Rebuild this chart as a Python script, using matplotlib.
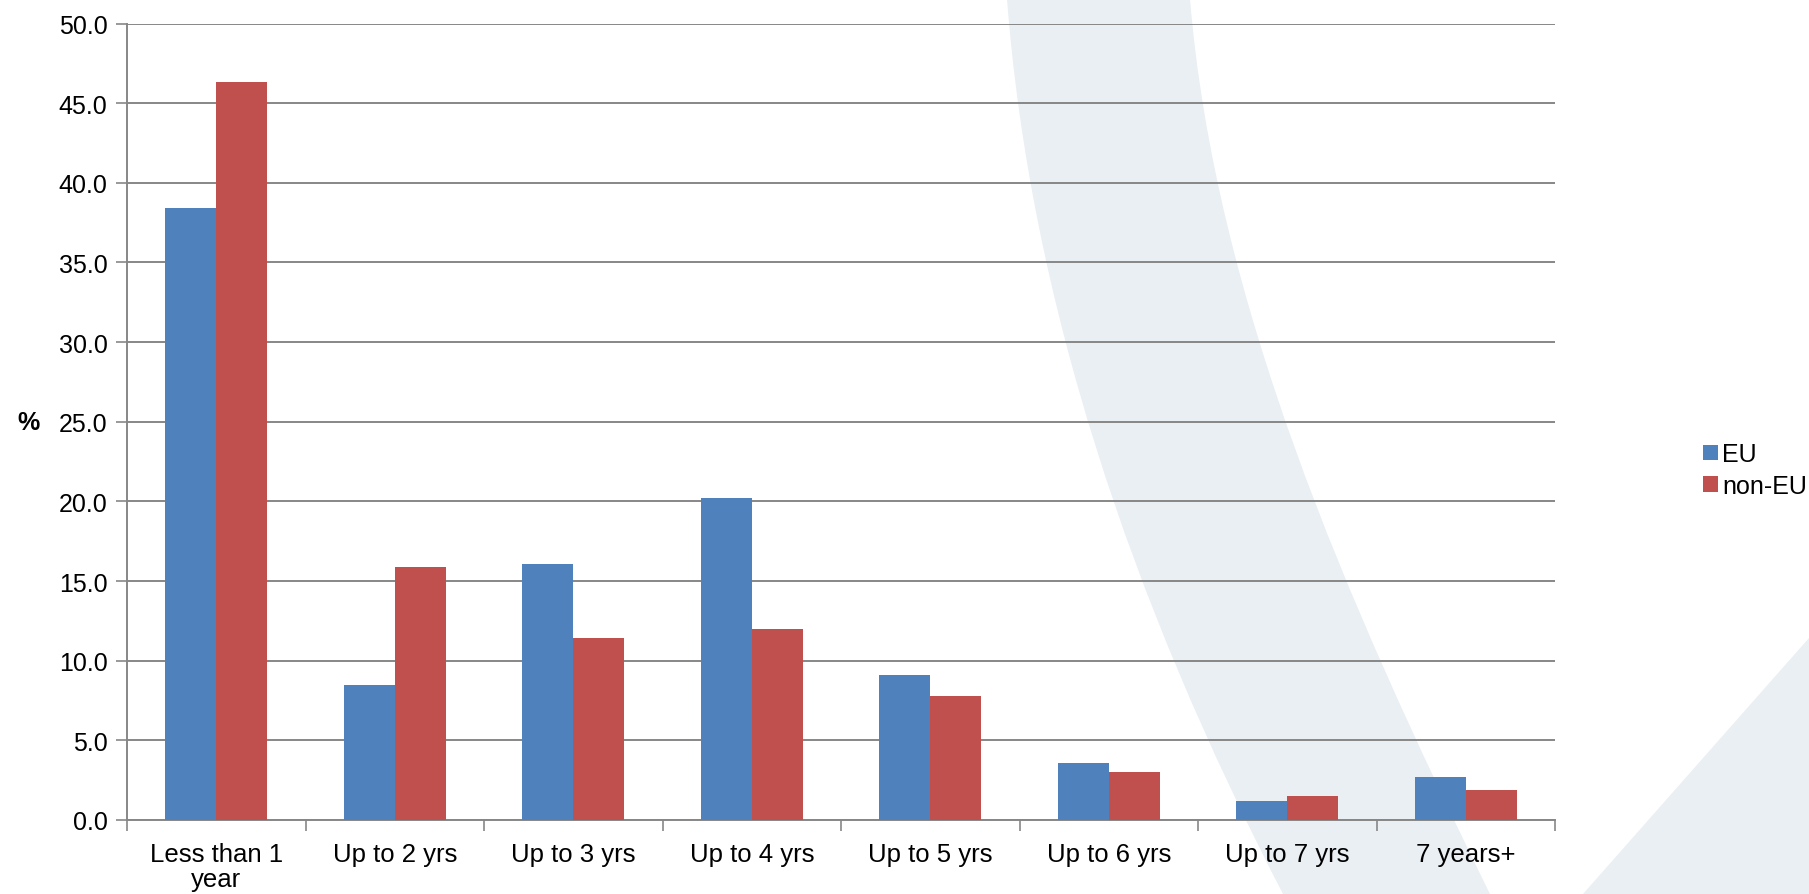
import numpy as np
import matplotlib.pyplot as plt
from matplotlib.patches import Polygon, PathPatch
from matplotlib.path import Path

categories = ['Less than 1\nyear', 'Up to 2 yrs', 'Up to 3 yrs', 'Up to 4 yrs',
              'Up to 5 yrs', 'Up to 6 yrs', 'Up to 7 yrs', '7 years+']
eu = [38.4, 8.5, 16.1, 20.2, 9.1, 3.6, 1.2, 2.7]
non_eu = [46.3, 15.9, 11.4, 12.0, 7.8, 3.0, 1.5, 1.9]

plt.rcParams['font.family'] = ['Liberation Sans', 'DejaVu Sans']

W, H = 1809, 895
fig = plt.figure(figsize=(W / 100, H / 100), dpi=100)
fig.patch.set_facecolor('white')

# pale background swoosh (pixel coords, origin top-left)
def px(pts):
    return [(x / W, 1 - y / H) for x, y in pts]

swoosh = px([(1007, 0), (1030, 300), (1130, 600), (1283, 895),
             (1490, 895), (1345, 600), (1215, 300), (1190, 0), (1007, 0)])
codes = [Path.MOVETO, Path.CURVE4, Path.CURVE4, Path.CURVE4,
         Path.LINETO, Path.CURVE4, Path.CURVE4, Path.CURVE4, Path.CLOSEPOLY]
fig.patches.append(PathPatch(Path(swoosh, codes), transform=fig.transFigure,
                             facecolor='#eaeff3', edgecolor='none', zorder=-1))
corner = px([(1809, 639), (1583, 895), (1809, 895)])
fig.patches.append(Polygon(corner, closed=True, transform=fig.transFigure,
                           facecolor='#eaeff3', edgecolor='none', zorder=-1))

ax = fig.add_axes([127 / W, 1 - 821 / H, (1555 - 127) / W, (821 - 24.5) / H])
ax.set_facecolor('none')
ax.set_zorder(1)

x = np.arange(len(categories))
w = 0.286
ax.bar(x - w / 2, eu, w, color='#4f81bd', label='EU', zorder=3)
ax.bar(x + w / 2, non_eu, w, color='#c0504d', label='non-EU', zorder=3)

ax.set_xlim(-0.5, len(categories) - 0.5)
ax.set_ylim(0, 50)
ax.set_yticks(np.arange(0, 50.1, 5))
ax.set_yticklabels([f'{v:.1f}' for v in np.arange(0, 50.1, 5)])

# category labels centred, tick marks on the boundaries
ax.set_xticks(x)
ax.set_xticklabels(categories, linespacing=1.05)
ax.set_xticks(np.arange(-0.5, len(categories)), minor=True)
ax.tick_params(axis='x', which='major', length=0, pad=16, labelsize=18.5)
ax.tick_params(axis='x', which='minor', length=8, color='#878787', width=1.2)
ax.tick_params(axis='y', length=8, color='#878787', width=1.2, labelsize=18, pad=6)

ax.yaxis.grid(True, color='#878787', linewidth=1.4, zorder=1)
ax.set_axisbelow(True)
for s in ['top', 'right']:
    ax.spines[s].set_visible(False)
for s in ['left', 'bottom']:
    ax.spines[s].set_color('#878787')
    ax.spines[s].set_linewidth(1.4)

ax.set_ylabel('%', rotation=0, fontsize=18, fontweight='bold', labelpad=22, va='center')

ax.legend(loc='center left', bbox_to_anchor=(1680 / W, 1 - 471 / H),
          bbox_transform=fig.transFigure, frameon=False, fontsize=18,
          handlelength=0.6, handleheight=0.6, handletextpad=0.2, labelspacing=0.3)

fig.savefig('out.png', dpi=100)
